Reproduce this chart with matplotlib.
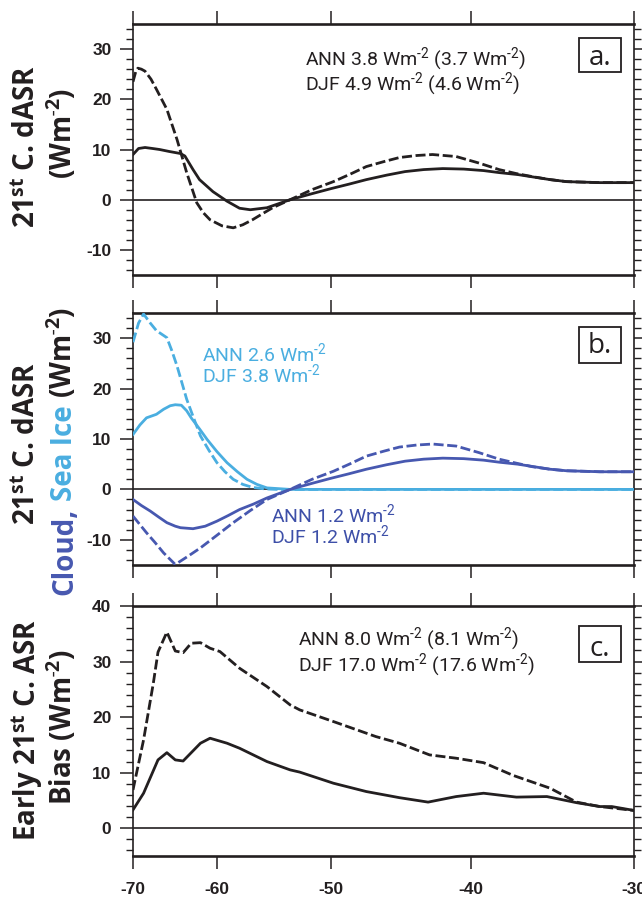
import numpy as np
import matplotlib
matplotlib.use("Agg")
import matplotlib.pyplot as plt
from matplotlib.patches import Rectangle
from matplotlib.ticker import MultipleLocator, NullLocator

# ---------------- data ----------------
xticks = [-70, -60, -50, -40, -30]
xtick_labels = ["-70", "-60", "-50", "-40", "-30"]

# panel a : total dASR
lat_a_ann = [-70, -69.2, -68.3, -67.3, -66.4, -65.2, -63.9, -63.4, -62.5, -61.8, -60.4, -59.0,
             -57.8, -56.8, -55.3, -53.3, -51.5, -50.0, -48.6, -47.3, -45.8, -44.5, -43.2, -41.9,
             -40.5, -39.2, -38.2, -37.0, -36.0, -35.0, -34.0, -32.0, -30.0]
a_ann = [9.0, 10.2, 10.4, 10.2, 10.0, 9.6, 9.2, 8.7, 6.0, 4.0, 1.6, -0.3,
         -1.7, -2.0, -1.6, 0.0, 1.2, 2.2, 3.1, 4.0, 4.9, 5.6, 6.0, 6.2,
         6.1, 5.8, 5.4, 5.0, 4.5, 4.0, 3.6, 3.4, 3.4]
lat_a_djf = [-70, -69.6, -69.3, -68.8, -68.3, -67.5, -66.8, -65.5, -64.3, -63.2, -62.1, -61.4,
             -60.7, -59.5, -58.4, -57.5, -56.6, -55.7, -54.8, -53.3, -51.5, -49.8, -48.5, -47.3,
             -46.0, -44.9, -43.7, -42.6, -41.0, -39.5, -38.2, -37.1, -36.1, -35.0, -34.0, -32.0,
             -30.0]
a_djf = [23.5, 25.5, 26.2, 26.0, 25.6, 24.0, 22.0, 18.0, 12.0, 5.4, -0.6, -2.6,
         -4.0, -5.2, -5.6, -5.0, -4.0, -2.8, -1.6, 0.0, 2.0, 3.6, 5.1, 6.6,
         7.6, 8.4, 8.8, 9.0, 8.6, 7.3, 6.0, 5.2, 4.6, 4.0, 3.6, 3.4,
         3.4]

# panel b : sea ice and cloud contributions
lat_ice_djf = [-70, -69.2, -68.5, -67.6, -66.8, -65.5, -64.9, -64.3, -63.2, -62.4, -61.7, -60.8,
               -60.0, -59.2, -58.4, -57.5, -56.6, -55.5, -54.4, -50, -40, -30]
ice_djf = [29.2, 33.0, 34.8, 33.0, 31.5, 30.1, 27.5, 24.5, 17.9, 14.0, 10.6, 7.7,
           5.3, 3.5, 2.0, 1.0, 0.4, 0.1, 0.0, 0.0, 0.0, 0.0]
lat_ice_ann = [-70, -69.0, -68.1, -66.8, -65.9, -65.1, -64.5, -63.8, -63.2, -62.7, -61.8, -61.0,
               -60.0, -59.0, -58.0, -57.1, -56.2, -55.3, -53.3, -45, -30]
ice_ann = [10.9, 12.8, 14.2, 14.9, 15.9, 16.6, 16.8, 16.7, 15.6, 14.2, 12.0, 9.9,
           7.5, 5.3, 3.5, 2.0, 1.0, 0.3, 0.0, 0.0, 0.0]
lat_cld_ann = [-70, -68.8, -67.6, -66.5, -65.5, -64.5, -63.9, -62.5, -61.2, -60.0, -58.9, -57.8,
               -56.5, -55.3, -53.3, -51.5, -50.0, -48.6, -47.3, -45.8, -44.5, -43.2, -41.9, -40.5,
               -39.2, -38.2, -37.0, -36.0, -35.0, -34.0, -32.0, -30.0]
cld_ann = [-2.0, -3.2, -4.3, -5.5, -6.6, -7.3, -7.6, -7.8, -7.3, -6.3, -5.2, -4.0,
           -2.9, -1.7, 0.0, 1.2, 2.2, 3.1, 4.0, 4.9, 5.6, 6.0, 6.2, 6.1,
           5.8, 5.4, 5.0, 4.5, 4.0, 3.7, 3.5, 3.5]
lat_cld_djf = [-70, -69.0, -68.1, -67.0, -65.9, -64.5, -63.0, -61.7, -60.0, -58.4, -56.8, -55.3,
               -53.3, -51.5, -49.8, -48.5, -47.3, -46.0, -44.9, -43.7, -42.6, -41.0, -39.5, -38.2,
               -37.1, -36.1, -35.0, -34.0, -32.0, -30.0]
cld_djf = [-5.3, -7.0, -8.6, -10.5, -12.6, -14.9, -13.2, -11.6, -9.1, -6.6, -4.2, -2.0,
           0.0, 2.0, 3.6, 5.1, 6.6, 7.6, 8.4, 8.8, 9.0, 8.6, 7.3, 6.0,
           5.2, 4.5, 4.0, 3.7, 3.5, 3.5]

# panel c : early 21st century ASR bias
lat_c_ann = [-70, -68.5, -66.6, -65.5, -64.5, -63.6, -61.7, -60.7, -59.0, -57.8, -55.3, -53.3,
             -52.5, -49.8, -47.3, -44.9, -42.9, -41.0, -39.2, -37.1, -35.2, -33.4, -32.0, -31.3, -30.0]
c_ann = [3.3, 6.3, 12.3, 13.6, 12.3, 12.1, 15.3, 16.2, 15.3, 14.4, 12.0, 10.5,
         10.1, 8.1, 6.6, 5.5, 4.7, 5.7, 6.3, 5.6, 5.7, 4.6, 3.9, 3.9, 3.2]
lat_c_djf = [-70, -68.5, -67.2, -66.6, -65.5, -64.5, -63.6, -62.7, -61.7, -60.7, -59.7, -57.8,
             -55.3, -53.3, -52.5, -49.8, -46.6, -44.9, -42.8, -41.0, -39.2, -37.3, -35.0, -33.4,
             -32.0, -30.0]
c_djf = [6.9, 15.9, 26.1, 31.7, 35.3, 31.9, 31.6, 33.3, 33.4, 32.4, 31.8, 28.8,
         25.5, 22.2, 21.3, 19.2, 16.5, 15.3, 13.2, 12.6, 11.8, 9.5, 7.2, 4.7,
         3.9, 3.2]

ytick_ab = [-10, 0, 10, 20, 30]
ytick_c = [0, 10, 20, 30, 40]

# ---------------- style ----------------
plt.rcParams.update({
    "font.family": ["Roboto", "DejaVu Sans"],
    "mathtext.fontset": "custom",
    "mathtext.rm": "Roboto",
    "mathtext.it": "Roboto:italic",
    "mathtext.bf": "Open Sans:bold",
    "axes.unicode_minus": False,
    "lines.scale_dashes": True,
})

BLACK = "#231f20"
LBLUE = "#4aaee0"
DBLUE = "#4758b0"
TDBLUE = "#3d4fa8"

W, H = 642, 899
fig = plt.figure(figsize=(W / 100, H / 100), dpi=100)


def rect(l, t, r, b):
    return [l / W, 1 - b / H, (r - l) / W, (b - t) / H]


def fwd(x):
    return np.sin(np.radians(x))


def inv(y):
    return np.degrees(np.arcsin(np.clip(y, -1, 1)))


axA = fig.add_axes(rect(133, 24, 634, 275))
axB = fig.add_axes(rect(133, 313, 634, 565))
axC = fig.add_axes(rect(133, 606, 634, 856))

TICKFONT = dict(family="Liberation Sans", weight="bold", size=12.5)


def style(ax, ylim, yticks, bottom_labels):
    ax.set_xscale("function", functions=(fwd, inv))
    ax.set_xlim(-70, -30)
    ax.set_ylim(*ylim)
    ax.set_xticks(xticks)
    ax.set_xticklabels(xtick_labels, fontdict=TICKFONT)
    ax.xaxis.set_minor_locator(NullLocator())
    ax.set_yticks(yticks)
    ax.set_yticklabels([str(v) for v in yticks], fontdict=TICKFONT)
    ax.yaxis.set_minor_locator(MultipleLocator(2))
    ax.tick_params(axis="both", which="both", direction="out", top=True, right=True,
                   color=BLACK, labelcolor=BLACK)
    ax.tick_params(which="major", length=9.5, width=1.1)
    ax.tick_params(which="minor", length=5, width=1.0)
    ax.tick_params(axis="y", pad=6)
    ax.tick_params(axis="x", pad=9, labelbottom=bottom_labels)
    for s in ["left", "right"]:
        ax.spines[s].set_linewidth(1.2)
        ax.spines[s].set_color(BLACK)
    for s in ["top", "bottom"]:
        ax.spines[s].set_linewidth(1.9)
        ax.spines[s].set_color(BLACK)
    ax.axhline(0, color=BLACK, lw=1.2, zorder=1)


LW = 2.0
DASH = (3.6, 1.3)

# panel a
style(axA, (-15, 35), ytick_ab, False)
axA.plot(lat_a_ann, a_ann, color=BLACK, lw=LW, zorder=3)
axA.plot(lat_a_djf, a_djf, color=BLACK, lw=LW, dashes=DASH, zorder=3)

# panel b
style(axB, (-15, 35), ytick_ab, False)
axB.plot(lat_ice_ann, ice_ann, color=LBLUE, lw=LW, zorder=3)
axB.plot(lat_ice_djf, ice_djf, color=LBLUE, lw=LW, dashes=DASH, zorder=3)
axB.plot(lat_cld_ann, cld_ann, color=DBLUE, lw=LW, zorder=3)
axB.plot(lat_cld_djf, cld_djf, color=DBLUE, lw=LW, dashes=DASH, zorder=3)

# panel c
style(axC, (-5, 40), ytick_c, True)
axC.plot(lat_c_ann, c_ann, color=BLACK, lw=LW, zorder=3)
axC.plot(lat_c_djf, c_djf, color=BLACK, lw=LW, dashes=DASH, zorder=3)

# ---------------- annotations ----------------
AFS = 14
W2 = r"Wm$^{\text{-2}}$"
axA.text(0.343, 0.837, f"ANN 3.8 {W2} (3.7 {W2})", transform=axA.transAxes,
         fontsize=AFS, color=BLACK, ha="left", va="baseline")
axA.text(0.343, 0.737, f"DJF 4.9 {W2} (4.6 {W2})", transform=axA.transAxes,
         fontsize=AFS, color=BLACK, ha="left", va="baseline")

axB.text(0.138, 0.810, f"ANN 2.6 {W2}", transform=axB.transAxes,
         fontsize=AFS, color=LBLUE, ha="left", va="baseline")
axB.text(0.138, 0.726, f"DJF 3.8 {W2}", transform=axB.transAxes,
         fontsize=AFS, color=LBLUE, ha="left", va="baseline")
axB.text(0.275, 0.171, f"ANN 1.2 {W2}", transform=axB.transAxes,
         fontsize=AFS, color=TDBLUE, ha="left", va="baseline")
axB.text(0.275, 0.087, f"DJF 1.2 {W2}", transform=axB.transAxes,
         fontsize=AFS, color=TDBLUE, ha="left", va="baseline")

axC.text(0.329, 0.844, f"ANN 8.0 {W2} (8.1 {W2})", transform=axC.transAxes,
         fontsize=AFS, color=BLACK, ha="left", va="baseline")
axC.text(0.329, 0.740, f"DJF 17.0 {W2} (17.6 {W2})", transform=axC.transAxes,
         fontsize=AFS, color=BLACK, ha="left", va="baseline")

# panel letters in boxes
for ax, lab, (y0, y1), yb in [(axA, "a.", (0.809, 0.944), 0.837),
                              (axB, "b.", (0.802, 0.944), 0.841),
                              (axC, "c.", (0.776, 0.920), 0.800)]:
    ax.add_patch(Rectangle((0.890, y0), 0.084, y1 - y0, transform=ax.transAxes,
                           fill=True, facecolor="white", edgecolor=BLACK, lw=1.3, zorder=5))
    ax.text(0.932, yb, lab, transform=ax.transAxes, fontsize=20, color=BLACK,
            family="Open Sans", ha="center", va="baseline", zorder=6)

# ---------------- y labels ----------------
YFS = 20
YFAM = ["Open Sans", "DejaVu Sans"]
SUP = r"$^{\mathbf{st}}$"
WB = r"(Wm$^{\text{-}\mathbf{2}}$)"


def ylab(text, xc, yc, color=BLACK):
    fig.text(xc / W, 1 - yc / H, text, rotation=90, ha="center", va="center",
             fontsize=YFS, fontweight="bold", color=color, family=YFAM)


ylab(f"21{SUP} C. dASR", 28, 146)
ylab(WB, 62, 133)
ylab(f"21{SUP} C. dASR", 28, 443)
ylab(f"Early 21{SUP} C. ASR", 27, 730)
ylab(f"Bias {WB}", 62, 727)

# multi-coloured second line for panel b
renderer = fig.canvas.get_renderer()
pieces = [("Cloud,", DBLUE), ("Sea Ice", LBLUE), (WB, BLACK)]
objs = []
for s, c in pieces:
    t = fig.text(0, 0, s, rotation=90, rotation_mode="anchor", ha="left", va="baseline",
                 fontsize=YFS, fontweight="bold", color=c, family=YFAM)
    objs.append(t)
sp1 = fig.text(0, 0, "a a", fontsize=YFS, fontweight="bold", family=YFAM)
sp2 = fig.text(0, 0, "aa", fontsize=YFS, fontweight="bold", family=YFAM)
space = sp1.get_window_extent(renderer).width - sp2.get_window_extent(renderer).width
sp1.remove()
sp2.remove()
lengths = [o.get_window_extent(renderer).height for o in objs]
total = sum(lengths) + space * (len(objs) - 1)
ycenter = H - 451
xbase = 72
y = ycenter - total / 2
for o, L in zip(objs, lengths):
    o.set_position((xbase / W, y / H))
    y += L + space

fig.savefig("out.png", dpi=100)
